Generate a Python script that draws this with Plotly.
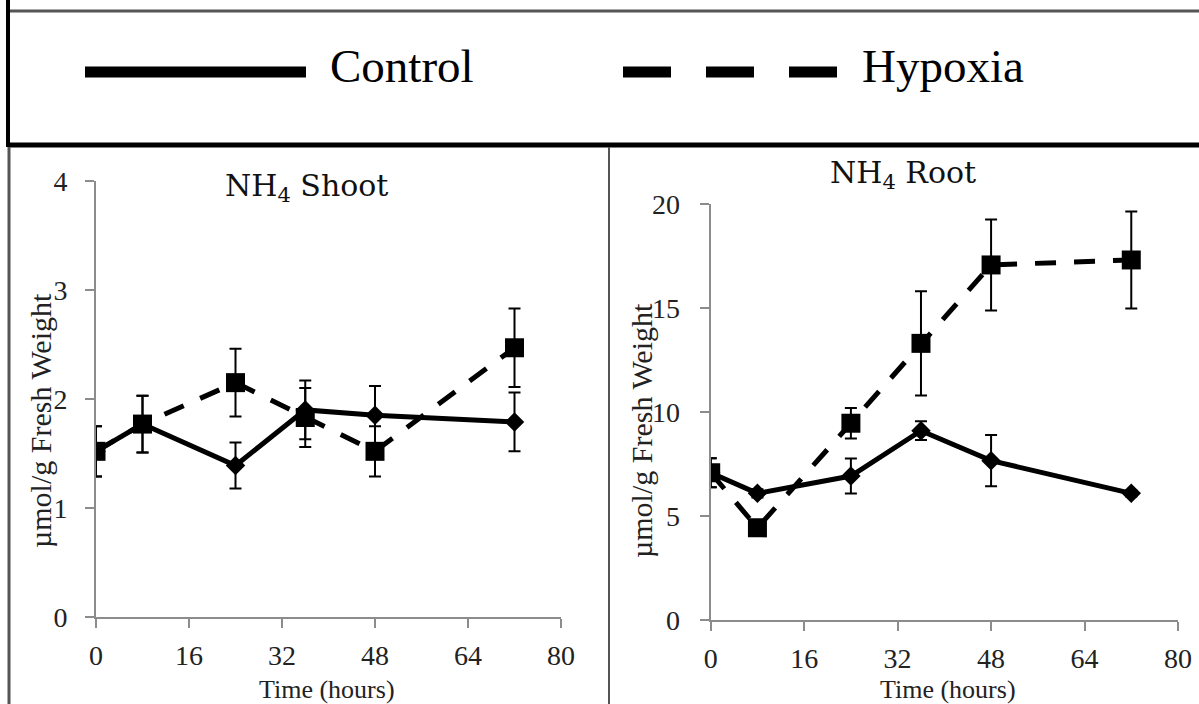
import plotly.graph_objects as go

# ---------------- data ----------------
time_h = [0, 8, 24, 36, 48, 72]
x_ticks = [0, 16, 32, 48, 64, 80]

shoot_control = [1.52, 1.77, 1.39, 1.90, 1.85, 1.79]
shoot_control_err = [0.23, 0.26, 0.21, 0.27, 0.27, 0.27]
shoot_hypoxia = [1.52, 1.77, 2.15, 1.83, 1.52, 2.47]
shoot_hypoxia_err = [0.23, 0.26, 0.31, 0.27, 0.23, 0.36]

root_control = [7.08, 6.09, 6.92, 9.10, 7.66, 6.09]
root_control_err = [0.70, 0.20, 0.84, 0.45, 1.23, 0.15]
root_hypoxia = [7.08, 4.43, 9.46, 13.30, 17.07, 17.31]
root_hypoxia_err = [0.70, 0.30, 0.73, 2.51, 2.19, 2.33]

series_names = ["Control", "Hypoxia"]
panel_titles = ["NH<sub>4</sub> Shoot", "NH<sub>4</sub> Root"]
y_title = "µmol/g Fresh Weight"
x_title = "Time (hours)"

# ---------------- figure ----------------
W, H = 1199, 704
SERIF = "Liberation Serif, Times New Roman, serif"
GRAY = "#8c8c8c"

fig = go.Figure()


def add_series(xa, ya, yvals, errs, name, dashed):
    fig.add_trace(go.Scatter(
        x=time_h, y=yvals, name=name, xaxis=xa, yaxis=ya,
        mode="lines+markers",
        line=dict(color="black", width=5, dash="21px,18px" if dashed else "solid"),
        marker=dict(symbol="square" if dashed else "diamond",
                    size=19 if dashed else 15, color="black"),
        error_y=dict(type="data", array=errs, visible=True,
                     color="black", thickness=2, width=6),
        showlegend=False,
    ))


add_series("x", "y", shoot_control, shoot_control_err, series_names[0], False)
add_series("x", "y", shoot_hypoxia, shoot_hypoxia_err, series_names[1], True)
add_series("x2", "y2", root_control, root_control_err, series_names[0], False)
add_series("x2", "y2", root_hypoxia, root_hypoxia_err, series_names[1], True)

axis_common = dict(
    showgrid=False, zeroline=False, showline=True, linecolor=GRAY, linewidth=2,
    ticks="outside", tickcolor=GRAY, tickwidth=2, ticklen=9,
    tickfont=dict(family=SERIF, size=28, color="#222222"),
    fixedrange=True, automargin=False,
)

fig.update_layout(
    template="none",
    width=W, height=H, autosize=False,
    margin=dict(l=0, r=0, t=0, b=0, pad=0),
    paper_bgcolor="white", plot_bgcolor="white",
    xaxis=dict(domain=[96 / W, 561 / W], range=[0, 80], tickvals=x_ticks,
               anchor="y", ticklabelstandoff=3, **axis_common),
    yaxis=dict(domain=[1 - 617 / H, 1 - 181 / H], range=[0, 4], dtick=1,
               anchor="x", ticklabelstandoff=12, **axis_common),
    xaxis2=dict(domain=[710.7 / W, 1178 / W], range=[0, 80], tickvals=x_ticks,
                anchor="y2", ticklabelstandoff=3, **axis_common),
    yaxis2=dict(domain=[1 - 620 / H, 1 - 204 / H], range=[0, 20], dtick=5,
                anchor="x2", ticklabelstandoff=14, **axis_common),
)

ann = []
# panel titles
ann.append(dict(text=panel_titles[0], x=306 / W, y=1 - 187 / H, xref="paper", yref="paper",
                showarrow=False, xanchor="center", yanchor="middle",
                font=dict(family="DejaVu Serif, serif", size=30, color="#111111")))
ann.append(dict(text=panel_titles[1], x=903 / W, y=1 - 175 / H, xref="paper", yref="paper",
                showarrow=False, xanchor="center", yanchor="middle",
                font=dict(family="DejaVu Serif, serif", size=30, color="#111111")))
# axis titles
for xc, yc in [(40, 421), (641, 431)]:
    ann.append(dict(text=y_title, x=xc / W, y=1 - yc / H, xref="paper", yref="paper",
                    showarrow=False, xanchor="center", yanchor="middle", textangle=-90,
                    font=dict(family=SERIF, size=30, color="#222222")))
for xc in [327, 948]:
    ann.append(dict(text=x_title, x=xc / W, y=1 - 689 / H, xref="paper", yref="paper",
                    showarrow=False, xanchor="center", yanchor="middle",
                    font=dict(family=SERIF, size=26, color="#222222")))
# legend labels
ann.append(dict(text=series_names[0], x=328 / W, y=1 - 66 / H, xref="paper", yref="paper",
                showarrow=False, xanchor="left", yanchor="middle",
                font=dict(family=SERIF, size=47, color="black")))
ann.append(dict(text=series_names[1], x=860 / W, y=1 - 66 / H, xref="paper", yref="paper",
                showarrow=False, xanchor="left", yanchor="middle",
                font=dict(family=SERIF, size=47, color="black")))
fig.update_layout(annotations=ann)

shapes = []
def pline(x0, y0, x1, y1, color, width, dash="solid"):
    shapes.append(dict(type="line", xref="paper", yref="paper",
                       x0=x0 / W, y0=1 - y0 / H, x1=x1 / W, y1=1 - y1 / H,
                       line=dict(color=color, width=width, dash=dash)))

# legend box frame
pline(8, 11, W, 11, "#555555", 3)
pline(8, 0, 8, 147, "black", 4)
pline(8, 145, W, 145, "black", 5)
# panel borders
pline(9, 147, 9, H, "#555555", 3)
pline(609, 147, 609, H, "#555555", 2)
# legend symbols
pline(85, 72, 306, 72, "black", 11)
pline(623, 72, 838, 72, "black", 11, dash="48px,35px")

fig.update_layout(shapes=shapes)

fig.write_html(
    "out.html",
    config={"displayModeBar": False, "staticPlot": False},
    post_script="document.body.style.margin='0';document.body.style.padding='0';"
                "document.body.style.overflow='hidden';",
)
